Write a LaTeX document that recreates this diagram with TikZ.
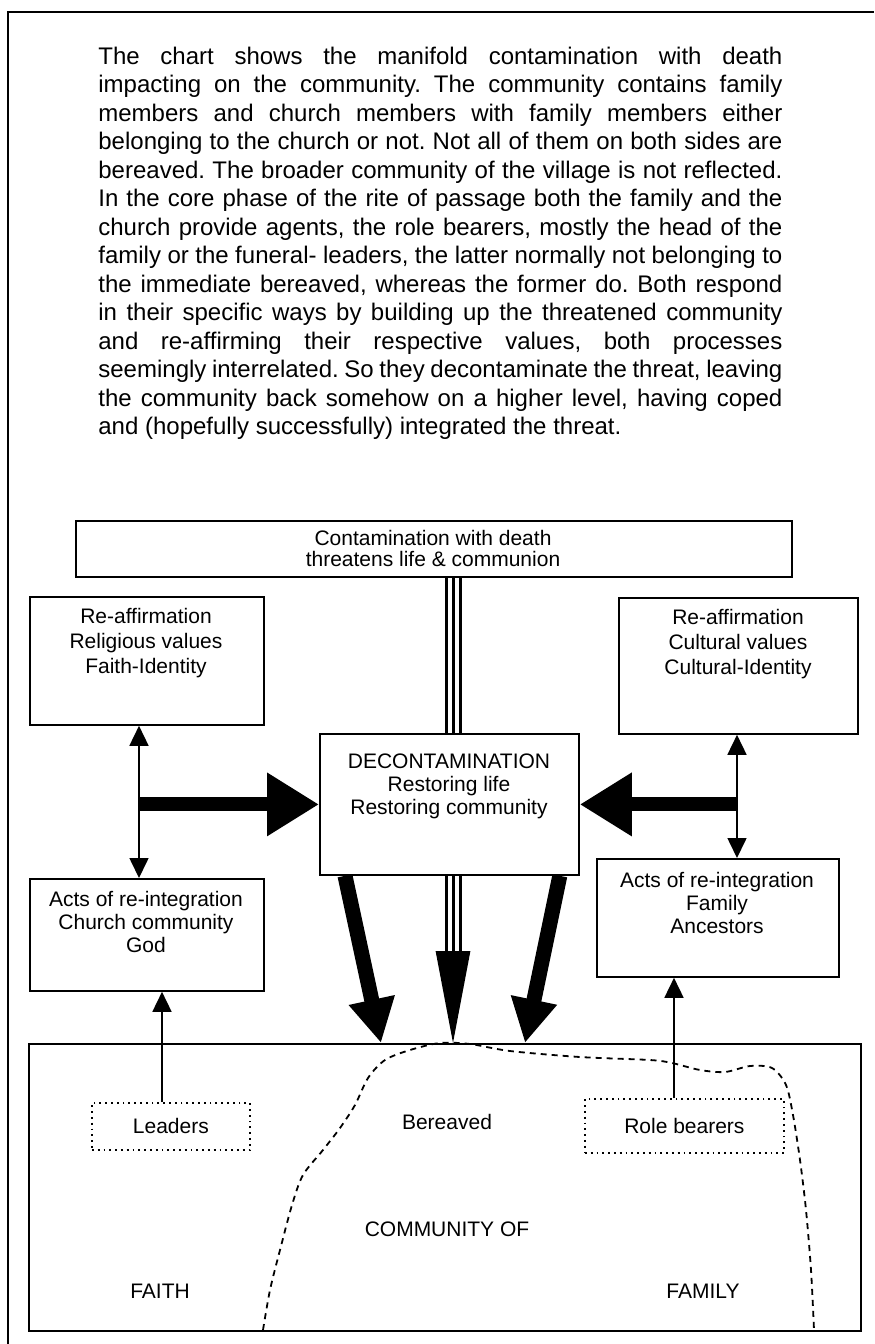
\documentclass[tikz,border=0pt]{standalone}
\usepackage{fontspec}
\setmainfont{Liberation Sans}
\usetikzlibrary{arrows.meta,calc}
\pgfdeclarelayer{bg}
\pgfsetlayers{bg,main}
\frenchspacing
\tikzset{
  box/.style={draw, line width=0.9pt, inner sep=0pt, fill=white, anchor=north west},
  dbox/.style={draw, dotted, line width=0.9pt, inner sep=0pt, anchor=north west, font=\fontsize{10.5}{12}\selectfont},
  txt/.style={align=center, inner sep=0pt},
  lbl/.style={inner sep=0pt, font=\fontsize{10.5}{12}\selectfont},
  para/.style={inner sep=0pt, anchor=base west, font=\fontsize{12}{14.25}\selectfont},
  thinline/.style={line width=0.8pt},
  sa/.tip={Triangle[length=10pt,width=9.5pt]},
  bigarrow/.style={line width=7pt, -{Triangle[length=26pt,width=30pt]}},
  diagarrow/.style={line width=7.5pt, -{Triangle[length=22pt,width=22pt]}}
}
\newcommand{\pline}[1]{\makebox[342pt][s]{#1}}
\begin{document}
\begin{tikzpicture}[x=0.5pt,y=-0.5pt]
\useasboundingbox (0,0) rectangle (874,1344);
% frame
\draw[line width=1pt] (8,1344) -- (8,12) -- (874,12);
% paragraph
\node[para] (p1) at (98,64) {\pline{The chart shows the manifold contamination with death}};
\node[para] (p2) at (98,92.5) {\pline{impacting on the community. The community contains family}};
\node[para] (p3) at (98,121) {\pline{members and church members with family members either}};
\node[para] (p4) at (98,149.5) {\pline{belonging to the church or not. Not all of them on both sides are}};
\node[para] (p5) at (98,178) {\pline{bereaved. The broader community of the village is not reflected.}};
\node[para] (p6) at (98,206.5) {\pline{In the core phase of the rite of passage both the family and the}};
\node[para] (p7) at (98,235) {\pline{church provide agents, the role bearers, mostly the head of the}};
\node[para] (p8) at (98,263.5) {\pline{family or the funeral- leaders, the latter normally not belonging to}};
\node[para] (p9) at (98,292) {\pline{the immediate bereaved, whereas the former do. Both respond}};
\node[para] (p10) at (98,320.5) {\pline{in their specific ways by building up the threatened community}};
\node[para] (p11) at (98,349) {\pline{and re-affirming their respective values, both processes}};
\node[para] (p12) at (98,377.5) {\pline{seemingly interrelated. So they decontaminate the threat, leaving}};
\node[para] (p13) at (98,406) {\pline{the community back somehow on a higher level, having coped}};
\node[para] (p14) at (98,434.5) {and (hopefully successfully) integrated the threat.};
% boxes
\node[box, minimum width=358pt, minimum height=28pt] (top) at (75,520) {};
\node[txt, font=\fontsize{10.5}{10.5}\selectfont] (topt) at (433,548) {Contamination with death\\threatens life \& communion};
\node[box, minimum width=117pt, minimum height=64pt] (l1) at (29,596) {};
\node[txt, font=\fontsize{10.5}{12.5}\selectfont] (l1t) at (146,643) {Re-affirmation\\Religious values\\Faith-Identity};
\node[box, minimum width=119.5pt, minimum height=68pt] (r1) at (618,597) {};
\node[txt, font=\fontsize{10.5}{12.5}\selectfont] (r1t) at (738,644) {Re-affirmation\\Cultural values\\Cultural-Identity};
\node[box, minimum width=129.5pt, minimum height=70.5pt] (dec) at (319,733) {};
\node[txt, font=\fontsize{10.5}{11.5}\selectfont] (dect) at (449,786) {DECONTAMINATION\\Restoring life\\Restoring community};
\node[box, minimum width=117pt, minimum height=56pt] (l2) at (29,878) {};
\node[txt, font=\fontsize{10.5}{11.5}\selectfont] (l2t) at (146,922) {Acts of re-integration\\Church community\\God};
\node[box, minimum width=121pt, minimum height=59pt] (r2) at (596,858) {};
\node[txt, font=\fontsize{10.5}{11.5}\selectfont] (r2t) at (717,903) {Acts of re-integration\\Family\\Ancestors};
\node[draw, line width=0.9pt, inner sep=0pt, anchor=north west, minimum width=416pt, minimum height=143.5pt] (comm) at (28,1043) {};
\node[dbox, minimum width=79pt, minimum height=23.5pt] (lead) at (91,1102) {Leaders};
\node[dbox, minimum width=99.5pt, minimum height=27pt] (rb) at (584,1098) {Role bearers};
\node[lbl] (ber) at (447,1122) {Bereaved};
\node[lbl] (cof) at (447,1229) {COMMUNITY OF};
\node[lbl] (fai) at (160,1291) {FAITH};
\node[lbl] (fam) at (703,1291) {FAMILY};
% coordinates
\coordinate (lv) at (139,0);
\coordinate (rv) at (737,0);
\coordinate (lx) at (162,0);
\coordinate (rx) at (674,0);
\coordinate (tx) at (453,0);
\coordinate (tl) at ($(comm.north west)+(353,0)$);
\coordinate (tr) at ($(comm.north west)+(497,0)$);
\coordinate (sl) at ($(dec.south west)+(26,0)$);
\coordinate (sr) at ($(dec.south east)+(-20,0)$);
\begin{pgfonlayer}{bg}
\draw[thinline, sa-sa] (l1.south -| lv) -- (l2.north -| lv);
\draw[thinline, sa-sa] (r1.south -| rv) -- (r2.north -| rv);
\draw[bigarrow] (lv |- dec.west) -- (dec.west);
\draw[bigarrow] (rv |- dec.east) -- (dec.east);
% triple line top
\draw[line width=8.5pt] (top.south -| tx) -- (dec.north -| tx);
\draw[white, line width=5.5pt] (top.south -| tx) -- (dec.north -| tx);
\draw[line width=1.5pt] (top.south -| tx) -- (dec.north -| tx);
% triple arrow bottom
\draw[line width=8.5pt, shorten >=46pt] (dec.south -| tx) -- (comm.north -| tx);
\draw[white, line width=5.5pt, shorten >=46pt] (dec.south -| tx) -- (comm.north -| tx);
\draw[line width=1.5pt, -{Triangle[length=46pt,width=17pt]}] (dec.south -| tx) -- (comm.north -| tx);
\draw[diagarrow] (sl) -- (tl);
\draw[diagarrow] (sr) -- (tr);
\draw[thinline, -sa] (lead.north -| lx) -- (l2.south -| lx);
\draw[thinline, -sa] (rb.north -| rx) -- (r2.south -| rx);
\end{pgfonlayer}
% bereaved boundary
\draw[dashed, line width=0.9pt, dash pattern=on 3pt off 2.5pt] plot[smooth, tension=0.5] coordinates {
(263,1330) (270,1290) (280,1250) (292,1205) (303,1175) (323,1150) (340,1128) (355,1105) (368,1078) (385,1060) (410,1050) (440,1043) (470,1044) (510,1051) (580,1057) (650,1060) (672,1063) (700,1070) (725,1072) (750,1066) (772,1068) (786,1085) (793,1115) (800,1160) (806,1210) (811,1270) (814,1330)};
\end{tikzpicture}
\end{document}
